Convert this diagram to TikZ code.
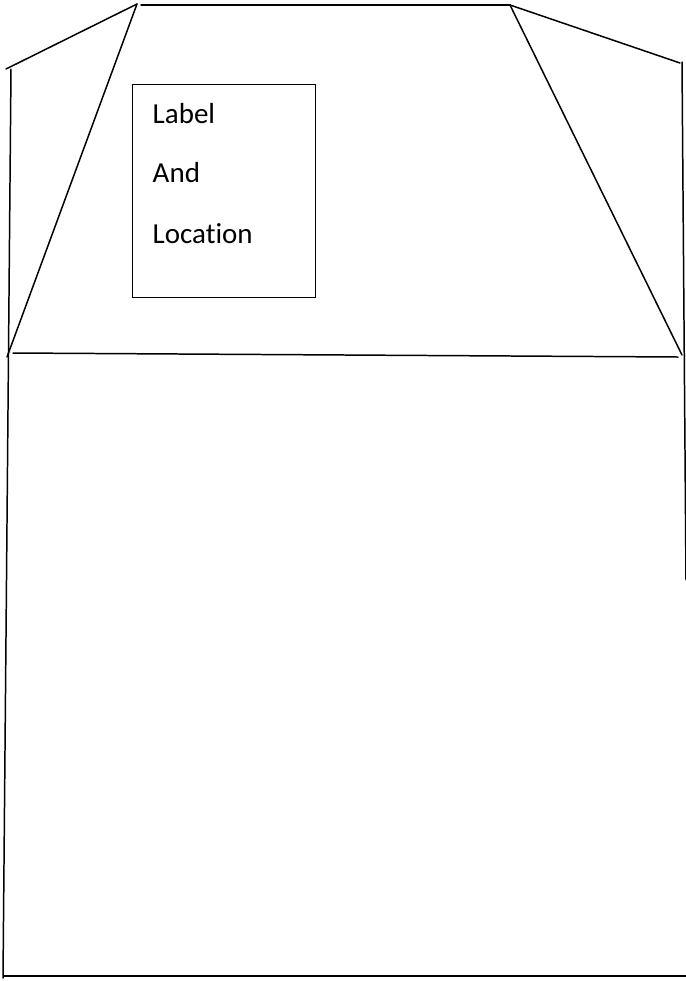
\documentclass[tikz,border=0pt]{standalone}
\usepackage{fontspec}
\setmainfont{Carlito}[Ligatures=NoCommon]
\usetikzlibrary{positioning}

\begin{document}
\begin{tikzpicture}[x=0.02cm, y=-0.02cm, line width=0.85pt,
  edge/.style={black, line cap=round},
  tagbox/.style={draw=black, minimum width=3.66cm, minimum height=4.26cm, anchor=north west, inner sep=0pt},
  tagtext/.style={font=\fontsize{16.5}{19}\selectfont, anchor=base west, inner sep=0pt}]
  \useasboundingbox (0,0) rectangle (686,981);

  %% Roof corners
  \coordinate (eaveL) at (6,69);
  \coordinate (ridgeL) at (137,4);
  \coordinate (ridgeLb) at (141,5);
  \coordinate (ridgeR) at (510,5);
  \coordinate (eaveR) at (680,63);
  \coordinate (floorL) at (7,357);
  \coordinate (floorLb) at (13,353);
  \coordinate (floorR) at (678,357);
  \coordinate (floorRb) at (682,355);

  %% Walls
  \coordinate (wallLt) at (11,69);
  \coordinate (wallLb) at (3,978);
  \coordinate (wallRt) at (682,62);
  \coordinate (wallRb) at (686,580);
  \coordinate (baseL) at (4,976);
  \coordinate (baseR) at (686,976);

  %% Roof outline
  \draw[edge] (eaveL) -- (ridgeL);
  \draw[edge] (ridgeLb) -- (ridgeR);
  \draw[edge] (ridgeR) -- (eaveR);
  \draw[edge] (ridgeL) -- (floorL);
  \draw[edge] (ridgeR) -- (floorRb);
  \draw[edge] (floorLb) -- (floorR);

  %% Body outline
  \draw[edge] (wallLt) -- (wallLb);
  \draw[edge] (wallRt) -- (wallRb);
  \draw[edge] (baseL) -- (baseR);

  %% Label box
  \node[tagbox] (tag) at (132,84) {};
  \node[tagtext] (tagA) at (152,123) {Label};
  \node[tagtext] (tagB) at (152,182) {And};
  \node[tagtext] (tagC) at (152,243) {Location};
\end{tikzpicture}
\end{document}
